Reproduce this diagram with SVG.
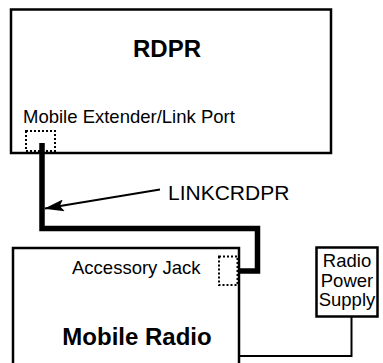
<svg xmlns="http://www.w3.org/2000/svg" width="383" height="363" viewBox="0 0 383 363">
<style>
.box{fill:#fff;stroke:#000;stroke-width:2.5}
.port{fill:none;stroke:#000;stroke-width:2;stroke-dasharray:2,2}
.t{font-family:"Liberation Sans",Arial,sans-serif;font-size:18.5px;fill:#000}
.b{font-family:"Liberation Sans",Arial,sans-serif;font-size:24px;font-weight:bold;fill:#000}
.cable{fill:none;stroke:#000;stroke-width:5.5;stroke-linejoin:miter}
.thin{fill:none;stroke:#000;stroke-width:2}
</style>
<defs>
<marker id="ah" viewBox="0 0 20 12" refX="19" refY="6" markerWidth="20" markerHeight="12" markerUnits="userSpaceOnUse" orient="auto">
<path d="M0,0 L20,6 L0,12 L4,6 Z" fill="#000"/>
</marker>
</defs>
<rect width="383" height="363" fill="#fff"/>
<g id="rdpr">
<rect class="box" x="11" y="9.5" width="320" height="143.5"/>
<text class="b" x="167" y="57" text-anchor="middle">RDPR</text>
<text class="t" x="23" y="123">Mobile Extender/Link Port</text>
<rect class="port" x="26" y="131" width="29" height="20"/>
</g>
<g id="mobile-radio">
<rect class="box" x="13" y="248" width="226" height="140"/>
<text class="t" x="72" y="274">Accessory Jack</text>
<rect class="port" x="219" y="256.5" width="18.5" height="28.5"/>
<text class="b" x="137" y="345" text-anchor="middle">Mobile Radio</text>
</g>
<g id="power-supply">
<rect class="box" x="316.5" y="247.5" width="61" height="69"/>
<text class="t" x="347" y="267" text-anchor="middle">Radio</text>
<text class="t" x="347" y="287" text-anchor="middle">Power</text>
<text class="t" x="347" y="306" text-anchor="middle">Supply</text>
</g>
<g id="connectors">
<path class="cable" d="M42,143 V228.5 H257.5 V271 H239"/>
<path class="thin" d="M351.5,316.5 V356 H239"/>
<line x1="160" y1="189.5" x2="45" y2="208.5" stroke="#000" stroke-width="2" marker-end="url(#ah)"/>
<text class="t" style="font-size:21px" x="168" y="200">LINKCRDPR</text>
</g>
</svg>
